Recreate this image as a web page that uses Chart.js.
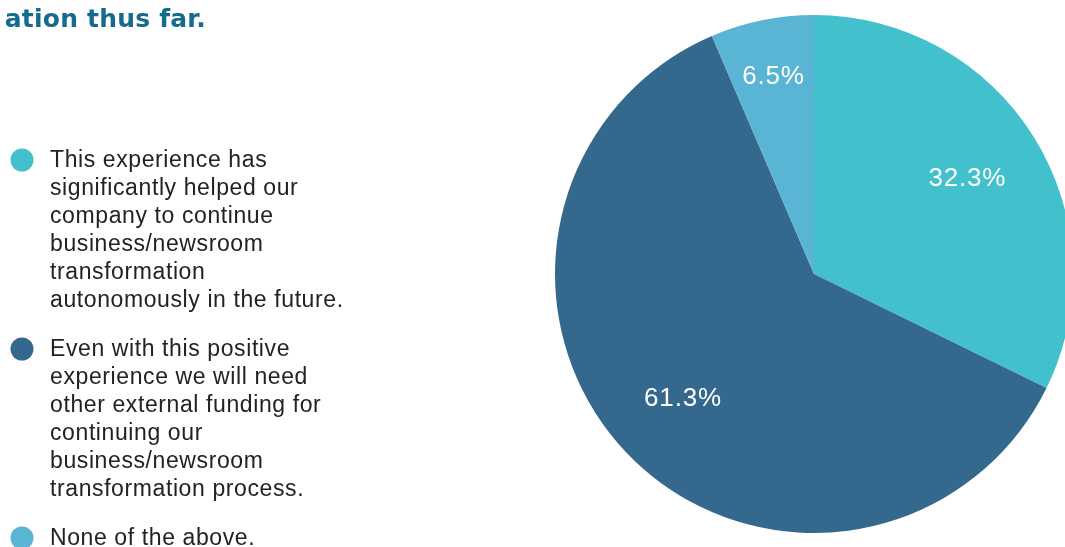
<!DOCTYPE html>
<html>
<head>
<meta charset="utf-8">
<script src="https://cdn.jsdelivr.net/npm/chart.js@4.4.1/dist/chart.umd.min.js"></script>
<style>
  html, body { margin: 0; padding: 0; background: #ffffff; overflow: hidden; }
  #wrap { width: 1065px; height: 547px; position: relative; }
</style>
</head>
<body>
<div id="wrap"><canvas id="pie" width="1065" height="547"></canvas></div>
<script>
// Survey answers (legend text already broken into lines)
const categories = [
  ["This experience has", "significantly helped our", "company to continue", "business/newsroom", "transformation", "autonomously in the future."],
  ["Even with this positive", "experience we will need", "other external funding for", "continuing our", "business/newsroom", "transformation process."],
  ["None of the above."]
];
// Number of respondents per answer
const responses = [10, 19, 2];
const sliceColors = ["#42c0cc", "#34698d", "#5ab5d5"];
const titleText = "ation thus far.";

// Percentage labels inside the slices
const sliceLabels = {
  id: "sliceLabels",
  afterDatasetsDraw(chart) {
    const ctx = chart.ctx;
    const meta = chart.getDatasetMeta(0);
    const vals = chart.data.datasets[0].data;
    const total = vals.reduce((a, b) => a + b, 0);
    ctx.save();
    ctx.font = "26px 'Liberation Sans', Arial, sans-serif";
    ctx.letterSpacing = "0.8px";
    ctx.fillStyle = "#ffffff";
    ctx.textAlign = "center";
    ctx.textBaseline = "middle";
    meta.data.forEach((arc, i) => {
      const { x, y, startAngle, endAngle, outerRadius } = arc.getProps(["x", "y", "startAngle", "endAngle", "outerRadius"], true);
      const mid = (startAngle + endAngle) / 2;
      const span = endAngle - startAngle;
      const k = span < Math.PI / 4 ? 0.776 : 0.698;
      const px = x + Math.cos(mid) * outerRadius * k;
      const py = y + Math.sin(mid) * outerRadius * k;
      const pct = (vals[i] / total * 100).toFixed(1) + "%";
      ctx.fillText(pct, px, py);
    });
    ctx.restore();
  }
};

// Wrapped legend on the left and the heading fragment at the top
const sideLegend = {
  id: "sideLegend",
  afterDraw(chart) {
    const ctx = chart.ctx;
    const labels = chart.data.labels;
    const colors = chart.data.datasets[0].backgroundColor;
    ctx.save();
    // heading
    ctx.font = "bold 25px 'DejaVu Sans', sans-serif";
    ctx.letterSpacing = "0.2px";
    ctx.fillStyle = "#176a8f";
    ctx.textAlign = "right";
    ctx.textBaseline = "alphabetic";
    ctx.fillText(titleText, 206, 27);

    // legend entries
    ctx.font = "23px 'Liberation Sans', Arial, sans-serif";
    ctx.letterSpacing = "0.6px";
    ctx.textAlign = "left";
    const lineH = 28;
    const gap = 21;
    let base = 167;
    labels.forEach((lines, i) => {
      ctx.fillStyle = colors[i];
      ctx.beginPath();
      ctx.arc(22, base - 7, 11.5, 0, Math.PI * 2);
      ctx.fill();
      ctx.fillStyle = "#222222";
      lines.forEach((ln, j) => {
        ctx.fillText(ln, 50, base + j * lineH);
      });
      base += lines.length * lineH + gap;
    });
    ctx.restore();
  }
};

new Chart(document.getElementById("pie"), {
  type: "pie",
  data: {
    labels: categories,
    datasets: [{
      data: responses,
      backgroundColor: sliceColors,
      borderWidth: 0,
      radius: 259
    }]
  },
  options: {
    responsive: false,
    devicePixelRatio: 1,
    animation: false,
    layout: { padding: { left: 563, top: 1, right: 0, bottom: 0 } },
    plugins: {
      legend: { display: false },
      tooltip: { enabled: false },
      title: { display: false }
    }
  },
  plugins: [sliceLabels, sideLegend]
});
</script>
</body>
</html>
